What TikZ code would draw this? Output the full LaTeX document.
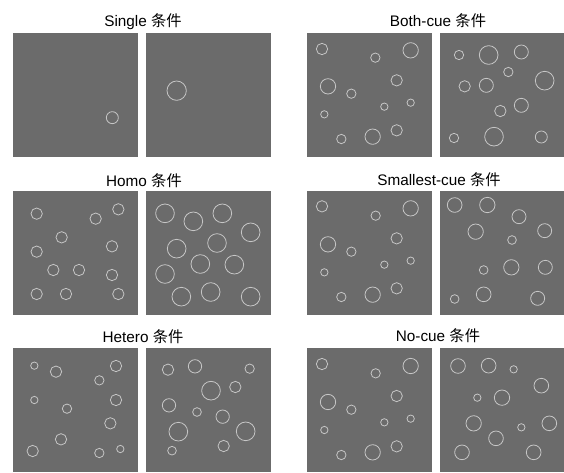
\documentclass[tikz,border=0pt]{standalone}
\usepackage{fontspec}
\setmainfont{Liberation Sans}
\newfontfamily\cjk{Noto Sans CJK SC}
\definecolor{panelgray}{RGB}{107,107,107}
\definecolor{ringgray}{RGB}{198,198,198}
\begin{document}
\begin{tikzpicture}[x=1pt,y=-1pt,
  panel/.style={fill=panelgray},
  ring/.style={draw=ringgray, line width=0.8pt},
  title/.style={anchor=base, inner sep=0pt, font=\fontsize{15.3}{17}\selectfont}]
\fill[white] (0,0) rectangle (564,472);
\useasboundingbox (0,0) rectangle (564,472);
% titles
\node[title] (t1) at (143,26) {Single {\cjk 条件}};
\node[title] (t2) at (438,26) {Both-cue {\cjk 条件}};
\node[title] (t3) at (144,186) {Homo {\cjk 条件}};
\node[title] (t4) at (439,185) {Smallest-cue {\cjk 条件}};
\node[title] (t5) at (143,342) {Hetero {\cjk 条件}};
\node[title] (t6) at (438,341.5) {No-cue {\cjk 条件}};
% squares
\foreach \yy/\hh in {33/157,191/315,348/472}{
  \fill[panel] (13,\yy) rectangle (138,\hh);
  \fill[panel] (146,\yy) rectangle (271,\hh);
  \fill[panel] (307,\yy) rectangle (432,\hh);
  \fill[panel] (440,\yy) rectangle (564,\hh);
}
% Single
\begin{scope}[shift={(0,0)},scale=1/3]
\foreach \x/\y/\r in {337/353/18,530/272/29}
  \draw[ring] (\x,\y) circle[radius=\r];
\end{scope}
% Both-cue
\begin{scope}[shift={(282,0)},scale=1/3]
\foreach \x/\y/\r in {120/147/17,280/173/14,386/151/23,138/259/23,208/281/14,344/241/17,307/320/11,386/308/11,127/343/11,178/417/14,272/410/23,344/391/17,
531/165/14,620/165/28,718/156/21,679/216/14,548/259/17,613/256/21,788/242/28,655/333/17,718/316/21,516/414/14,636/410/28,778/411/18}
  \draw[ring] (\x,\y) circle[radius=\r];
\end{scope}
% Homo
\begin{scope}[shift={(0,160)},scale=1/3]
\foreach \x/\y in {110/161,287/176,355/148,185/232,110/275,336/259,160/330,237/330,336/345,110/402,198/402,355/402}
  \draw[ring] (\x,\y) circle[radius=17];
\foreach \x/\y in {495/160,580/184,667/160,752/217,530/266,651/249,601/312,703/314,495/342,544/410,632/396,752/410}
  \draw[ring] (\x,\y) circle[radius=28];
\end{scope}
% Smallest-cue
\begin{scope}[shift={(282,160)},scale=1/3]
\foreach \x/\y/\r in {120/139/17,281/167/14,386/145/23,138/253/23,208/275/14,344/235/17,307/314/11,386/302/11,127/337/11,178/411/14,272/404/23,344/385/17,
518/135/22,616/135/23,711/170/21,581/215/23,690/240/13,788/212/21,605/330/13,688/322/23,790/322/21,518/417/13,605/403/22,767/415/21}
  \draw[ring] (\x,\y) circle[radius=\r];
\end{scope}
% Hetero
\begin{scope}[shift={(0,320)},scale=1/3]
\foreach \x/\y/\r in {103/137/11,168/155/17,348/138/17,298/181/14,103/240/11,201/266/14,348/240/17,331/310/17,183/358/17,98/393/17,298/399/14,361/387/11,
504/149/17,585/139/20,749/146/14,633/212/28,706/201/17,507/256/20,591/276/13,668/290/20,535/335/28,737/334/28,671/378/17,516/392/13}
  \draw[ring] (\x,\y) circle[radius=\r];
\end{scope}
% No-cue
\begin{scope}[shift={(282,320)},scale=1/3]
\foreach \x/\y/\r in {120/132/17,281/160/14,386/138/23,138/246/23,208/269/14,344/228/17,307/307/11,386/296/11,127/330/11,178/405/14,272/397/23,344/379/17,
528/138/22,620/137/22,695/148/11,778/197/22,586/233/11,660/233/23,575/310/23,718/322/11,802/310/22,642/355/22,540/397/22,755/397/22}
  \draw[ring] (\x,\y) circle[radius=\r];
\end{scope}
\end{tikzpicture}
\end{document}
